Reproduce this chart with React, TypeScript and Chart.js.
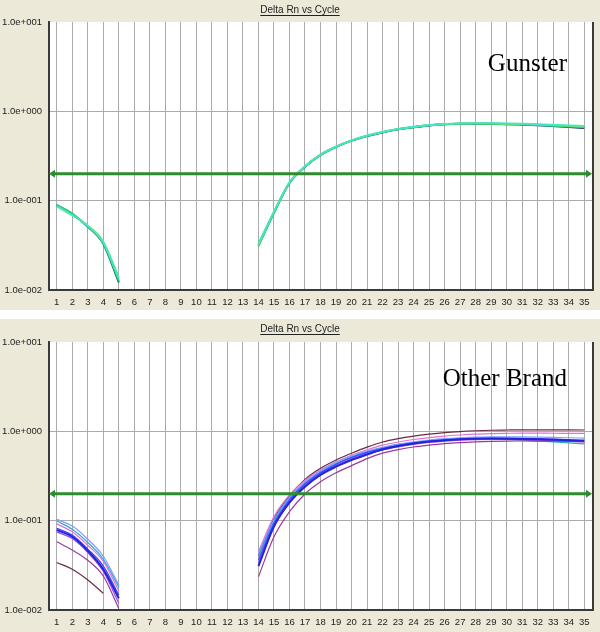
import React, { useEffect, useRef } from "react";
import { Chart, registerables } from "chart.js";

Chart.register(...registerables);

// ---------- data ----------
const cycleLabels = ["1","2","3","4","5","6","7","8","9","10","11","12","13","14","15","16","17","18","19","20","21","22","23","24","25","26","27","28","29","30","31","32","33","34","35"];
const earlyCycleCount = 5; // cycles 1-5 plotted
const lateStartCycle = 14; // cycles 14-35 plotted

const yTickValues = [0.01, 0.1, 1, 10];
const yTickLabels = ["1.0e-002", "1.0e-001", "1.0e+000", "1.0e+001"];
const thresholdValue = 0.2;

const chartTitle = "Delta Rn vs Cycle";
const topPanelName = "Gunster";
const bottomPanelName = "Other Brand";

// Gunster (top panel)
const gNavyEarly = [0.089, 0.071, 0.051, 0.033, 0.0122];
const gNavyLate = [0.032, 0.074, 0.158, 0.240, 0.325, 0.400, 0.470, 0.530, 0.580, 0.628, 0.662, 0.695, 0.715, 0.725, 0.727, 0.724, 0.718, 0.708, 0.697, 0.683, 0.668, 0.650];
const gTealEarly = [0.088, 0.070, 0.052, 0.034, 0.0128];
const gTealLate = [0.031, 0.073, 0.159, 0.242, 0.327, 0.402, 0.472, 0.532, 0.584, 0.632, 0.667, 0.700, 0.720, 0.730, 0.732, 0.730, 0.726, 0.717, 0.707, 0.695, 0.682, 0.668];
const gAquaEarly = [0.087, 0.069, 0.052, 0.034, 0.0135];
const gAquaLate = [0.033, 0.075, 0.160, 0.241, 0.326, 0.403, 0.474, 0.535, 0.587, 0.635, 0.672, 0.703, 0.724, 0.734, 0.738, 0.737, 0.733, 0.726, 0.718, 0.708, 0.698, 0.688];
const gLimeEarly = [0.086, 0.068, 0.053, 0.035, 0.014];
const gLimeLate = [0.032, 0.076, 0.161, 0.243, 0.330, 0.405, 0.476, 0.537, 0.588, 0.633, 0.668, 0.700, 0.720, 0.730, 0.733, 0.731, 0.727, 0.720, 0.711, 0.700, 0.689, 0.678];
const gGreenEarly = [0.090, 0.072, 0.051, 0.033, 0.0125];
const gGreenLate = [0.031, 0.072, 0.157, 0.238, 0.322, 0.398, 0.468, 0.528, 0.579, 0.626, 0.661, 0.693, 0.713, 0.723, 0.726, 0.723, 0.718, 0.710, 0.700, 0.688, 0.675, 0.662];

// Other brand (bottom panel)
const oMaroonEarly = [0.034, 0.0286, 0.0217, 0.0154];
const oMaroonLate = [0.040, 0.105, 0.190, 0.290, 0.385, 0.478, 0.568, 0.665, 0.760, 0.830, 0.885, 0.930, 0.968, 0.995, 1.015, 1.028, 1.035, 1.040, 1.040, 1.040, 1.038, 1.035];
const oPinkEarly = [0.092, 0.075, 0.053, 0.035, 0.0164];
const oPinkLate = [0.045, 0.111, 0.194, 0.282, 0.372, 0.455, 0.540, 0.622, 0.700, 0.760, 0.810, 0.852, 0.885, 0.910, 0.930, 0.942, 0.950, 0.955, 0.955, 0.952, 0.950, 0.948];
const oLightBlueEarly = [0.1035, 0.087, 0.062, 0.040, 0.019];
const oLightBlueLate = [0.043, 0.102, 0.182, 0.272, 0.363, 0.450, 0.530, 0.600, 0.662, 0.720, 0.765, 0.800, 0.828, 0.848, 0.862, 0.868, 0.870, 0.866, 0.860, 0.854, 0.848, 0.840];
const oBlueEarly = [0.082, 0.069, 0.048, 0.031, 0.0147];
const oBlueLate = [0.036, 0.093, 0.170, 0.257, 0.344, 0.428, 0.507, 0.580, 0.640, 0.695, 0.740, 0.775, 0.803, 0.822, 0.833, 0.838, 0.837, 0.832, 0.825, 0.815, 0.803, 0.790];
const oDarkBlueEarly = [0.079, 0.066, 0.046, 0.0285, 0.0135];
const oDarkBlueLate = [0.031, 0.086, 0.159, 0.240, 0.325, 0.402, 0.478, 0.550, 0.625, 0.685, 0.732, 0.768, 0.796, 0.815, 0.826, 0.830, 0.828, 0.822, 0.814, 0.805, 0.795, 0.782];
const oVioletEarly = [0.075, 0.063, 0.044, 0.027, 0.0119];
const oVioletLate = [0.033, 0.089, 0.163, 0.250, 0.335, 0.415, 0.490, 0.560, 0.620, 0.670, 0.715, 0.750, 0.778, 0.798, 0.808, 0.812, 0.810, 0.805, 0.796, 0.786, 0.775, 0.762];
const oCyanEarly = [0.099, 0.080, 0.057, 0.037, 0.018];
const oCyanLate = [0.040, 0.098, 0.176, 0.262, 0.350, 0.435, 0.515, 0.585, 0.650, 0.700, 0.745, 0.780, 0.804, 0.818, 0.822, 0.818, 0.810, 0.796, 0.780, 0.762, 0.742, 0.722];
const oPurpleEarly = [0.058, 0.047, 0.036, 0.024, 0.0104];
const oPurpleLate = [0.0236, 0.066, 0.126, 0.199, 0.273, 0.344, 0.413, 0.495, 0.570, 0.625, 0.668, 0.700, 0.728, 0.748, 0.763, 0.773, 0.778, 0.779, 0.777, 0.774, 0.770, 0.765];

type Series = { label: string; color: string; width: number; early: number[]; late: number[] };

// listed bottom-most first (drawn first), top-most last
const gunsterSeries: Series[] = [
  { label: "G-navy", color: "#1c3a6b", width: 2, early: gNavyEarly, late: gNavyLate },
  { label: "G-teal", color: "#2a9f8a", width: 1.6, early: gTealEarly, late: gTealLate },
  { label: "G-green", color: "#2fcf72", width: 1.6, early: gGreenEarly, late: gGreenLate },
  { label: "G-lime", color: "#8ae86a", width: 1.6, early: gLimeEarly, late: gLimeLate },
  { label: "G-aqua", color: "#40e6c8", width: 1.8, early: gAquaEarly, late: gAquaLate },
];

const otherSeries: Series[] = [
  { label: "O-maroon", color: "#6e2a3c", width: 1.2, early: oMaroonEarly, late: oMaroonLate },
  { label: "O-pink", color: "#e070e0", width: 1.2, early: oPinkEarly, late: oPinkLate },
  { label: "O-lightblue", color: "#7f9cff", width: 1.2, early: oLightBlueEarly, late: oLightBlueLate },
  { label: "O-cyan", color: "#3aa6cc", width: 1.2, early: oCyanEarly, late: oCyanLate },
  { label: "O-violet", color: "#9a48e6", width: 1.2, early: oVioletEarly, late: oVioletLate },
  { label: "O-purple", color: "#9b3a9b", width: 1.2, early: oPurpleEarly, late: oPurpleLate },
  { label: "O-blue", color: "#4646ff", width: 1.4, early: oBlueEarly, late: oBlueLate },
  { label: "O-darkblue", color: "#2424d8", width: 2, early: oDarkBlueEarly, late: oDarkBlueLate },
];

function buildSeriesData(early: number[], late: number[]): (number | null)[] {
  const out: (number | null)[] = [];
  for (let i = 0; i < cycleLabels.length; i++) {
    const c = i + 1;
    if (c <= earlyCycleCount) out.push(early[i] !== undefined ? early[i] : null);
    else if (c >= lateStartCycle) {
      const v = late[c - lateStartCycle];
      out.push(v !== undefined ? v : null);
    } else out.push(null);
  }
  return out;
}

const FONT = "'Liberation Sans', Arial, sans-serif";

type PanelLayout = {
  height: number;
  plotTop: number;
  plotBottom: number;
  plotLeft: number;
  plotRight: number;
  titleBaseline: number;
  nameBaseline: number;
  nameRight: number;
};

function Panel({ series, name, layout }: { series: Series[]; name: string; layout: PanelLayout }) {
  const ref = useRef<HTMLCanvasElement | null>(null);
  useEffect(() => {
    if (!ref.current) return;
    const W = 600;
    const panelPlugin = {
      id: "panelDecor",
      beforeDraw(chart: any) {
        const { ctx, chartArea } = chart;
        ctx.save();
        ctx.fillStyle = "#ece9d8";
        ctx.fillRect(0, 0, chart.width, chart.height);
        ctx.fillStyle = "#ffffff";
        ctx.fillRect(chartArea.left, chartArea.top, chartArea.right - chartArea.left, chartArea.bottom - chartArea.top);
        ctx.restore();
      },
      afterDatasetsDraw(chart: any) {
        const { ctx, chartArea } = chart;
        const y = chart.scales.y.getPixelForValue(thresholdValue);
        const l = chartArea.left;
        const r = chartArea.right;
        ctx.save();
        ctx.strokeStyle = "#2e8b2e";
        ctx.fillStyle = "#2e8b2e";
        ctx.lineWidth = 3;
        ctx.beginPath();
        ctx.moveTo(l + 3, y);
        ctx.lineTo(r - 3, y);
        ctx.stroke();
        ctx.beginPath();
        ctx.moveTo(l, y);
        ctx.lineTo(l + 6, y - 4);
        ctx.lineTo(l + 6, y + 4);
        ctx.closePath();
        ctx.fill();
        ctx.beginPath();
        ctx.moveTo(r, y);
        ctx.lineTo(r - 6, y - 4);
        ctx.lineTo(r - 6, y + 4);
        ctx.closePath();
        ctx.fill();
        ctx.restore();
      },
      afterDraw(chart: any) {
        const { ctx, chartArea } = chart;
        ctx.save();
        ctx.strokeStyle = "#3a3a3a";
        ctx.lineWidth = 2;
        ctx.beginPath();
        ctx.moveTo(chartArea.right + 1, chartArea.top);
        ctx.lineTo(chartArea.right + 1, chartArea.bottom + 1);
        ctx.stroke();
        ctx.font = `10px ${FONT}`;
        ctx.fillStyle = "#222";
        ctx.textAlign = "center";
        ctx.textBaseline = "alphabetic";
        const cx = 300;
        ctx.fillText(chartTitle, cx, layout.titleBaseline);
        const w = ctx.measureText(chartTitle).width;
        ctx.strokeStyle = "#222";
        ctx.lineWidth = 1;
        ctx.beginPath();
        ctx.moveTo(cx - w / 2, layout.titleBaseline + 2.5);
        ctx.lineTo(cx + w / 2, layout.titleBaseline + 2.5);
        ctx.stroke();
        ctx.font = `25px 'Liberation Serif', 'Times New Roman', serif`;
        ctx.fillStyle = "#000";
        ctx.textAlign = "right";
        ctx.fillText(name, layout.nameRight, layout.nameBaseline);
        ctx.restore();
      },
    };

    const datasets = series
      .map((s) => ({
        label: s.label,
        data: buildSeriesData(s.early, s.late),
        borderColor: s.color,
        backgroundColor: s.color,
        borderWidth: s.width,
        pointRadius: 0,
        cubicInterpolationMode: "monotone",
        spanGaps: false,
        fill: false,
      }))
      .reverse(); // Chart.js paints index 0 last (on top)

    const chart = new Chart(ref.current, {
      type: "line",
      data: { labels: cycleLabels, datasets },
      options: {
        responsive: false,
        animation: false,
        layout: { padding: { top: layout.plotTop, right: W - layout.plotRight, left: 0, bottom: 0 } },
        plugins: { legend: { display: false }, tooltip: { enabled: false }, title: { display: false } },
        scales: {
          x: {
            type: "category",
            offset: true,
            grid: { offset: false, color: "#ababab", lineWidth: 1, drawTicks: false },
            border: { color: "#3a3a3a", width: 2 },
            ticks: { autoSkip: false, maxRotation: 0, minRotation: 0, padding: 7, color: "#222", font: { family: FONT, size: 9.5 } },
            afterFit: (s: any) => { s.height = layout.height - layout.plotBottom; },
          },
          y: {
            type: "logarithmic",
            min: 0.01,
            max: 10,
            grid: {
              color: (c: any) => (c.tick && (c.tick.value === 10 || c.tick.value === 0.01) ? "rgba(0,0,0,0)" : "#ababab"),
              lineWidth: 1,
              drawTicks: false,
            },
            border: { color: "#3a3a3a", width: 2 },
            afterBuildTicks: (s: any) => { s.ticks = yTickValues.map((v) => ({ value: v })); },
            ticks: {
              padding: 7,
              color: "#222",
              font: { family: FONT, size: 9.5 },
              callback: (v: any) => {
                const i = yTickValues.findIndex((t) => Math.abs(t - Number(v)) < t * 1e-6);
                return i >= 0 ? yTickLabels[i] : "";
              },
            },
            afterFit: (s: any) => { s.width = layout.plotLeft; },
          },
        },
      } as any,
      plugins: [panelPlugin],
    });
    return () => chart.destroy();
  }, []);
  return <canvas ref={ref} width={600} height={layout.height} style={{ display: "block", width: 600, height: layout.height }} />;
}

const topLayout: PanelLayout = { height: 310, plotTop: 22, plotBottom: 290, plotLeft: 49, plotRight: 592, titleBaseline: 13, nameBaseline: 71, nameRight: 567 };
const bottomLayout: PanelLayout = { height: 313, plotTop: 23, plotBottom: 291, plotLeft: 49, plotRight: 592, titleBaseline: 13, nameBaseline: 67, nameRight: 567 };

export default function App() {
  return (
    <div style={{ position: "absolute", left: 0, top: 0, width: 600, height: 632, background: "#ffffff" }}>
      <div style={{ position: "absolute", left: 0, top: 0 }}>
        <Panel series={gunsterSeries} name={topPanelName} layout={topLayout} />
      </div>
      <div style={{ position: "absolute", left: 0, top: 319 }}>
        <Panel series={otherSeries} name={bottomPanelName} layout={bottomLayout} />
      </div>
    </div>
  );
}
